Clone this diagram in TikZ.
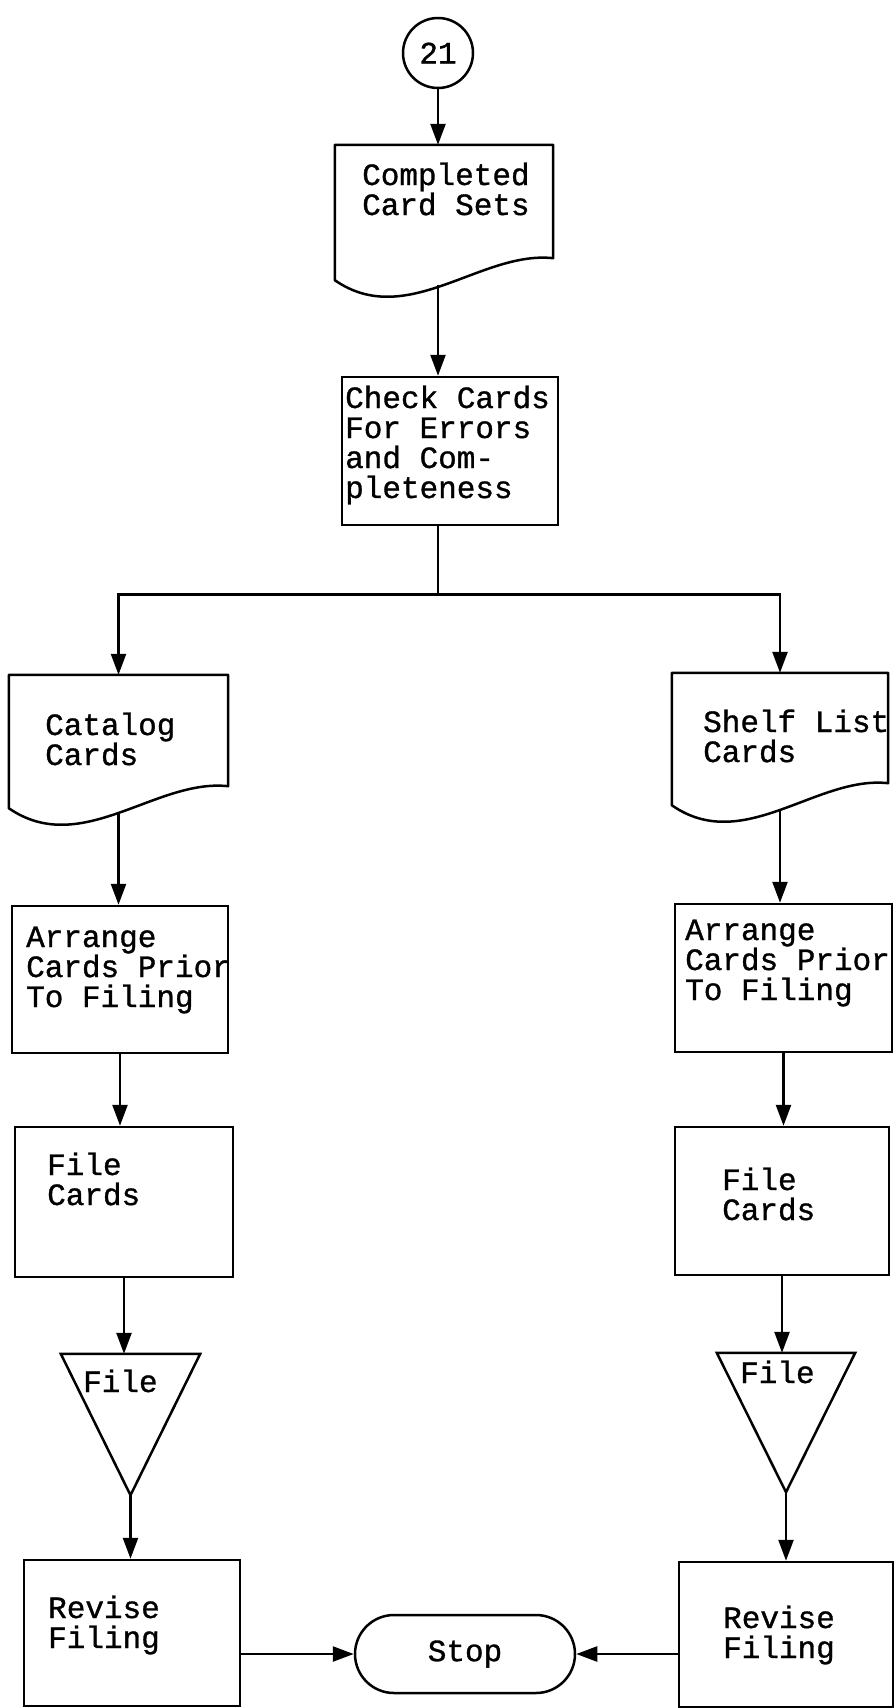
\documentclass[tikz,border=0pt]{standalone}
\usepackage{fontspec}
\newfontfamily\cardfont[FakeBold=1]{Liberation Mono}
\usetikzlibrary{arrows.meta,calc,shapes.misc}
\tikzset{
  flow/font/.style={font=\cardfont\fontsize{31}{30}\selectfont},
  flow/box/.style={
    rectangle,
    draw,
    line width=2.5pt,
    inner sep=0pt
  },
  flow/frame/.style={
    rectangle,
    draw=none,
    inner sep=0pt
  },
  flow/conn/.style={
    circle,
    draw,
    line width=2.5pt,
    minimum size=70pt,
    inner sep=0pt,
    flow/font
  },
  flow/stop/.style={
    rounded rectangle,
    draw,
    line width=2.5pt,
    minimum width=220pt,
    minimum height=78pt,
    inner sep=0pt,
    flow/font
  },
  flow/text/.style={anchor=base west, align=left, inner sep=0pt, flow/font},
  flow/line/.style={line width=2.5pt, line join=round},
  flow/arrow/.style={-{Triangle[length=21pt,width=15pt]}, line width=2.5pt}
}

\begin{document}
\begin{tikzpicture}[x=1pt,y=-1pt]
  \useasboundingbox[fill=white] (0,0) rectangle (895,1708);

  % shapes
  \node[flow/conn] (c21) at (438,53) {21};
  \node[flow/frame,minimum width=218pt,minimum height=135pt] (cardsets) at (444,212.5) {};
  \node[flow/box,minimum width=216pt,minimum height=148pt] (check) at (450,451) {};
  \node[flow/frame,minimum width=219pt,minimum height=133pt] (catalog) at (118.5,741.5) {};
  \node[flow/frame,minimum width=216pt,minimum height=132pt] (shelf) at (780,739) {};
  \node[flow/box,minimum width=216pt,minimum height=147pt] (arrL) at (120,979.5) {};
  \node[flow/box,minimum width=217pt,minimum height=148pt] (arrR) at (783.5,978) {};
  \node[flow/box,minimum width=218pt,minimum height=150pt] (fileL) at (124,1202) {};
  \node[flow/box,minimum width=214pt,minimum height=148pt] (fileR) at (782,1201) {};
  \node[flow/frame,minimum width=139pt,minimum height=141pt] (triL) at (130.5,1424.5) {};
  \node[flow/frame,minimum width=138pt,minimum height=139pt] (triR) at (786,1422.5) {};
  \node[flow/box,minimum width=216pt,minimum height=146pt] (revL) at (132,1633) {};
  \node[flow/box,minimum width=214pt,minimum height=145pt] (revR) at (786,1634.5) {};
  \node[flow/stop] (stop) at (465,1654) {Stop};

  % document outlines
  \foreach \n in {cardsets,catalog,shelf}{
    \draw[flow/line] (\n.north west) -- (\n.north east) -- ($(\n.south east)+(0,-22)$)
      .. controls ($(\n.south west)!0.67!(\n.south east)+(0,-30)$)
      and ($(\n.south west)!0.33!(\n.south east)+(0,50)$) .. (\n.south west)
      coordinate[pos=0.5] (\n-wave) -- cycle;
  }
  % merge triangles
  \foreach \n in {triL,triR}{
    \draw[flow/line,line join=miter] (\n.north west) -- (\n.north east) -- (\n.south) -- cycle;
  }

  % texts (placed at the baseline of the last line)
  \node[flow/text] (cardsets-txt) at (362,215) {Completed\\Card Sets};
  \node[flow/text] (check-txt) at (345,498) {Check Cards\\For Errors\\and Com-\\pleteness};
  \node[flow/text] (catalog-txt) at (45,765) {Catalog\\Cards};
  \node[flow/text] (shelf-txt) at (703,762) {Shelf List\\Cards};
  \node[flow/text] (arrL-txt) at (26,1007) {Arrange\\Cards Prior\\To Filing};
  \node[flow/text] (arrR-txt) at (685,1000) {Arrange\\Cards Prior\\To Filing};
  \node[flow/text] (fileL-txt) at (47,1205) {File\\Cards};
  \node[flow/text] (fileR-txt) at (722,1220) {File\\Cards};
  \node[flow/text] (triL-txt) at (83,1392) {File};
  \node[flow/text] (triR-txt) at (740,1383) {File};
  \node[flow/text] (revL-txt) at (48,1648) {Revise\\Filing};
  \node[flow/text] (revR-txt) at (723,1658) {Revise\\Filing};

  % connectors
  \draw[flow/arrow] (c21) -- (c21 |- cardsets.north);
  \draw[flow/arrow] (c21 |- cardsets-wave) -- (c21 |- check.north);
  \draw[flow/line] (c21 |- check.south) -- ++(0,68) coordinate (split);
  \draw[flow/arrow] (split) -| (catalog.north);
  \draw[flow/arrow] (split) -| (shelf.north);
  \foreach \a/\b in {catalog-wave/arrL,arrL.south/fileL,fileL.south/triL,triL.south/revL,
                     shelf-wave/arrR,arrR.south/fileR,fileR.south/triR,triR.south/revR}{
    \draw[flow/arrow] (\a) -- (\a |- \b.north);
  }
  \draw[flow/arrow] (revL.east |- stop) -- (stop.west);
  \draw[flow/arrow] (revR.west |- stop) -- (stop.east);
\end{tikzpicture}
\end{document}
